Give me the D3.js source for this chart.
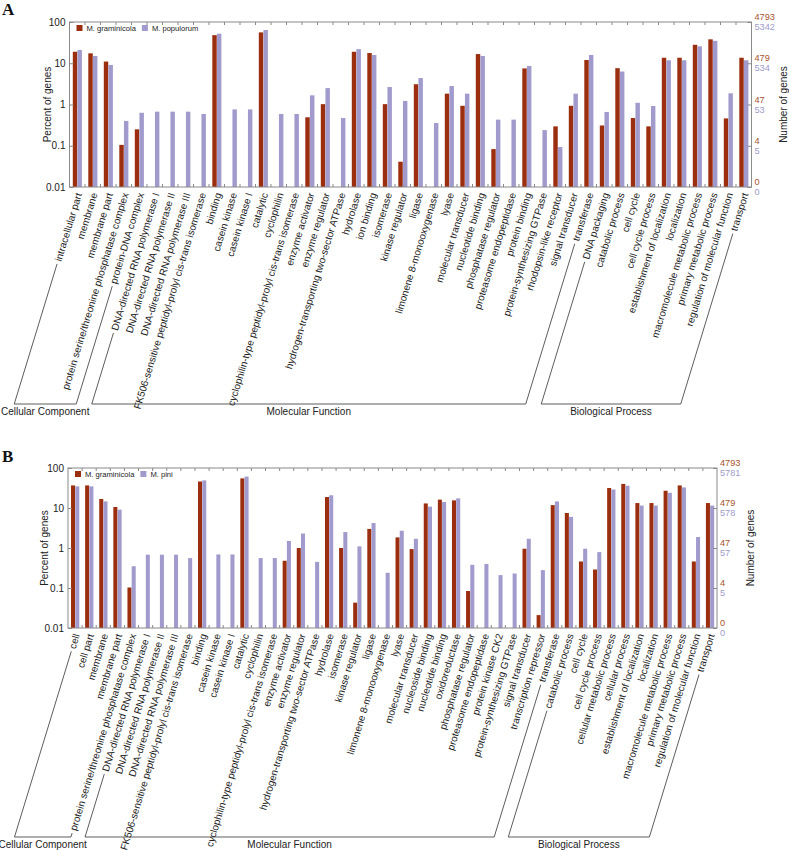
<!DOCTYPE html>
<html><head><meta charset="utf-8">
<script src="https://cdn.jsdelivr.net/npm/d3@7"></script>
<style>body{margin:0;background:#fff}svg{display:block}</style>
</head><body>
<svg id="chart" width="789" height="850" font-family="Liberation Sans, Arial, sans-serif"></svg>
<script>
const catsA = ["intracellular part","membrane","membrane part","protein serine/threonine phosphatase complex","protein-DNA complex","DNA-directed RNA polymerase I","DNA-directed RNA polymerase II","DNA-directed RNA polymerase III","FK506-sensitive peptidyl-prolyl cis-trans isomerase","binding","casein kinase","casein kinase I","catalytic","cyclophilin","cyclophilin-type peptidyl-prolyl cis-trans isomerase","enzyme activator","enzyme regulator","hydrogen-transporting two-sector ATPase","hydrolase","ion binding","isomerase","kinase regulator","ligase","limonene 8-monooxygenase","lyase","molecular transducer","nucleotide binding","phosphatase regulator","proteasome endopeptidase","protein binding","protein-synthesizing GTPase","rhodopsin-like receptor","signal transducer","transferase","DNA packaging","catabolic process","cell cycle","cell cycle process","establishment of localization","localization","macromolecule metabolic process","primary metabolic process","regulation of molecular function","transport"];
const graminicolaA = [19,17.4,11,0.105,0.25,0,0,0,0,48,0,0,56,0,0,0.49,1.02,0,19,17.7,1.02,0.041,3.1,0,1.83,0.93,16.7,0.083,0,7.5,0,0.295,0.93,12,0.31,7.6,0.47,0.295,13.6,13.6,28,38,0.46,13.6];
const populorumA = [21,15,9.1,0.4,0.63,0.67,0.67,0.67,0.59,52,0.76,0.76,64,0.59,0.59,1.67,2.5,0.47,22,15.9,2.65,1.22,4.37,0.355,2.8,1.83,15,0.43,0.43,8.6,0.24,0.093,1.83,15.9,0.66,6.3,1.1,0.92,11.8,11.8,25.7,35,1.87,11.8];
const groupsA = [["Cellular Component",0,4],["Molecular Function",5,33],["Biological Process",34,43]];
const rightGrA = ["4793","479","47","4","0"];
const rightPopA = ["5342","534","53","5","0"];

const catsB = ["cell","cell part","membrane","membrane part","protein serine/threonine phosphatase complex","DNA-directed RNA polymerase I","DNA-directed RNA polymerase II","DNA-directed RNA polymerase III","FK506-sensitive peptidyl-prolyl cis-trans isomerase","binding","casein kinase","casein kinase I","catalytic","cyclophilin","cyclophilin-type peptidyl-prolyl cis-trans isomerase","enzyme activator","enzyme regulator","hydrogen-transporting two-sector ATPase","hydrolase","isomerase","kinase regulator","ligase","limonene 8-monooxygenase","lyase","molecular transducer","nucleoside binding","nucleotide binding","oxidoreductase","phosphatase regulator","proteasome endopeptidase","protein kinase CK2","protein-synthesizing GTPase","signal transducer","transcription repressor","transferase","catabolic process","cell cycle","cell cycle process","cellular metabolic process","cellular process","establishment of localization","localization","macromolecule metabolic process","primary metabolic process","regulation of molecular function","transport"];
const graminicolaB = [36.7,36.7,16.8,10.6,0.103,0,0,0,0,46,0,0,55,0,0,0.48,1.0,0,18.8,1.0,0.043,3.0,0,1.84,0.94,13,16.2,15.5,0.084,0,0,0,0.96,0.021,11.8,7.5,0.46,0.29,31.6,40,13.3,13.3,27,36.7,0.46,13.3];
const piniB = [34.7,34.7,14.6,9.1,0.35,0.68,0.68,0.68,0.56,49,0.69,0.69,61,0.56,0.56,1.5,2.3,0.45,20.8,2.5,1.1,4.2,0.24,2.7,1.7,10.8,14.1,17.4,0.38,0.4,0.21,0.23,1.7,0.28,14.6,6.0,0.96,0.79,29,36,11.5,11.5,24,32.7,1.88,11.5];
const groupsB = [["Cellular Component",0,4],["Molecular Function",5,34],["Biological Process",35,45]];
const rightGrB = ["4793","479","47","4","0"];
const rightPiB = ["5781","578","57","5","0"];

const percentTicks = [100,10,1,0.1,0.01];
const percentTickLabels = ["100","10","1","0.1","0.01"];
const seriesNames = ["M. graminicola"];

const RED = "#9b2e0e", PURPLE = "#a09bcc", RTXT = "#a8532c", FRAME = "#8a8a8a";
const svg = d3.select("#chart");
const ANG = -73, rad = ANG*Math.PI/180, dirx = Math.cos(rad), diry = Math.sin(rad);

function panel(o){
  const g = svg.append("g");
  const x = d3.scaleBand().domain(o.cats).range([o.left,o.right]).paddingInner(0.4).paddingOuter(0.2);
  const xs = d3.scaleBand().domain(["a","b"]).range([0,x.bandwidth()]);
  const y = d3.scaleLog().domain([0.01,100]).range([o.bottom,o.top]);
  const rows = o.cats.map((c,i)=>({c, a:o.s1[i], b:o.s2[i]}));
  const bg = g.append("g");
  rows.forEach(r=>{
    [["a",r.a,RED],["b",r.b,PURPLE]].forEach(([k,v,col])=>{
      if(v>0){
        bg.append("rect").attr("x",x(r.c)+xs(k)+0.2).attr("width",xs.bandwidth()-0.2)
          .attr("y",y(v)).attr("height",y(0.01)-y(v)).attr("fill",col);
      }
    });
  });
  g.append("rect").attr("x",o.left).attr("y",o.top).attr("width",o.right-o.left).attr("height",o.bottom-o.top)
   .attr("fill","none").attr("stroke",FRAME).attr("stroke-width",1);
  const step = x.step();
  for(let i=1;i<o.cats.length;i++){
    const bx = o.left + i*step;
    g.append("line").attr("x1",bx).attr("x2",bx).attr("y1",o.top).attr("y2",o.top+3).attr("stroke",FRAME);
    g.append("line").attr("x1",bx).attr("x2",bx).attr("y1",o.bottom).attr("y2",o.bottom-3).attr("stroke",FRAME);
  }
  const la = d3.axisLeft(y).tickValues(percentTicks).tickFormat((d,i)=>percentTickLabels[i]).tickSizeInner(-4).tickSizeOuter(0).tickPadding(4);
  const lag = g.append("g").attr("transform",`translate(${o.left},0)`).call(la);
  lag.attr("font-family",null);
  lag.select(".domain").remove();
  lag.selectAll("line").attr("stroke",FRAME);
  lag.selectAll("text").attr("font-size",10).attr("fill","#222");
  const ra = d3.axisRight(y).tickValues(percentTicks).tickFormat("").tickSizeInner(-4).tickSizeOuter(0);
  const rag = g.append("g").attr("transform",`translate(${o.right},0)`).call(ra);
  rag.select(".domain").remove();
  rag.selectAll("line").attr("stroke",FRAME);
  percentTicks.forEach((t,i)=>{
    g.append("text").attr("x",o.right+3).attr("y",y(t)-5).attr("dy","0.35em").attr("font-size",9.2).attr("fill",RTXT).text(o.r1[i]);
    g.append("text").attr("x",o.right+3).attr("y",y(t)+5).attr("dy","0.35em").attr("font-size",9.2).attr("fill",PURPLE).text(o.r2[i]);
  });
  g.append("text").attr("transform",`translate(${o.ltx},${(o.top+o.bottom)/2}) rotate(-90)`).attr("text-anchor","middle")
   .attr("dy","0.35em").attr("font-size",10).attr("fill","#222").text("Percent of genes");
  g.append("text").attr("transform",`translate(${o.rtx},${(o.top+o.bottom)/2}) rotate(-90)`).attr("text-anchor","middle")
   .attr("dy","0.35em").attr("font-size",10).attr("fill","#222").text("Number of genes");
  const lg = g.append("g").attr("transform",`translate(${o.left+7},${o.top+6})`);
  lg.append("rect").attr("x",0).attr("y",-3).attr("width",6).attr("height",6).attr("fill",RED);
  const t1 = lg.append("text").attr("x",10).attr("y",0).attr("dy","0.35em").attr("font-size",7.6).attr("fill","#222").text(seriesNames[0]);
  const w1 = t1.node().getComputedTextLength();
  lg.append("rect").attr("x",10+w1+6).attr("y",-3).attr("width",6).attr("height",6).attr("fill",PURPLE);
  lg.append("text").attr("x",10+w1+16).attr("y",0).attr("dy","0.35em").attr("font-size",7.6).attr("fill","#222").text(o.name2);
  const ends = [];
  o.cats.forEach((c,i)=>{
    const ax = x(c)+x.bandwidth()/2+1.5, ay = o.bottom+6;
    const t = g.append("text").attr("transform",`translate(${ax},${ay}) rotate(${ANG})`).attr("text-anchor","end")
      .attr("dy","0.35em").attr("font-size",10).attr("fill","#222").text(c);
    const L = t.node().getComputedTextLength();
    ends.push({sx: ax - L*dirx, sy: ay - L*diry});
  });
  o.groups.forEach(([name,a,b])=>{
    const pts = [a,b].map(i=>{
      const p0x = ends[i].sx - 3*dirx, p0y = ends[i].sy - 3*diry;
      const tt = (o.brY - p0y)/(-diry);
      return {x0:p0x,y0:p0y,x1:p0x - tt*dirx,y1:o.brY};
    });
    const pa = pts[0], pb = pts[1];
    g.append("path").attr("d",`M${pa.x0},${pa.y0}L${pa.x1},${pa.y1}L${pb.x1},${pb.y1}L${pb.x0},${pb.y0}`)
      .attr("fill","none").attr("stroke","#333").attr("stroke-width",0.8);
    g.append("text").attr("x",(pa.x1+pb.x1)/2).attr("y",o.brY+11).attr("text-anchor","middle")
      .attr("font-size",10).attr("fill","#222").text(name);
  });
  svg.append("text").attr("x",2).attr("y",o.letterY).attr("font-family","Liberation Serif, Times New Roman, serif")
    .attr("font-weight","bold").attr("font-size",17).attr("fill","#111").text(o.letter);
}

panel({cats:catsA,s1:graminicolaA,s2:populorumA,groups:groupsA,r1:rightGrA,r2:rightPopA,name2:"M. populorum",
  left:69.5,right:751.5,top:22,bottom:187,brY:404,ltx:47,rtx:783,letter:"A",letterY:15});
panel({cats:catsB,s1:graminicolaB,s2:piniB,groups:groupsB,r1:rightGrB,r2:rightPiB,name2:"M. pini",
  left:68,right:717,top:468,bottom:628,brY:837,ltx:44,rtx:750,letter:"B",letterY:462});
</script>
</body></html>
